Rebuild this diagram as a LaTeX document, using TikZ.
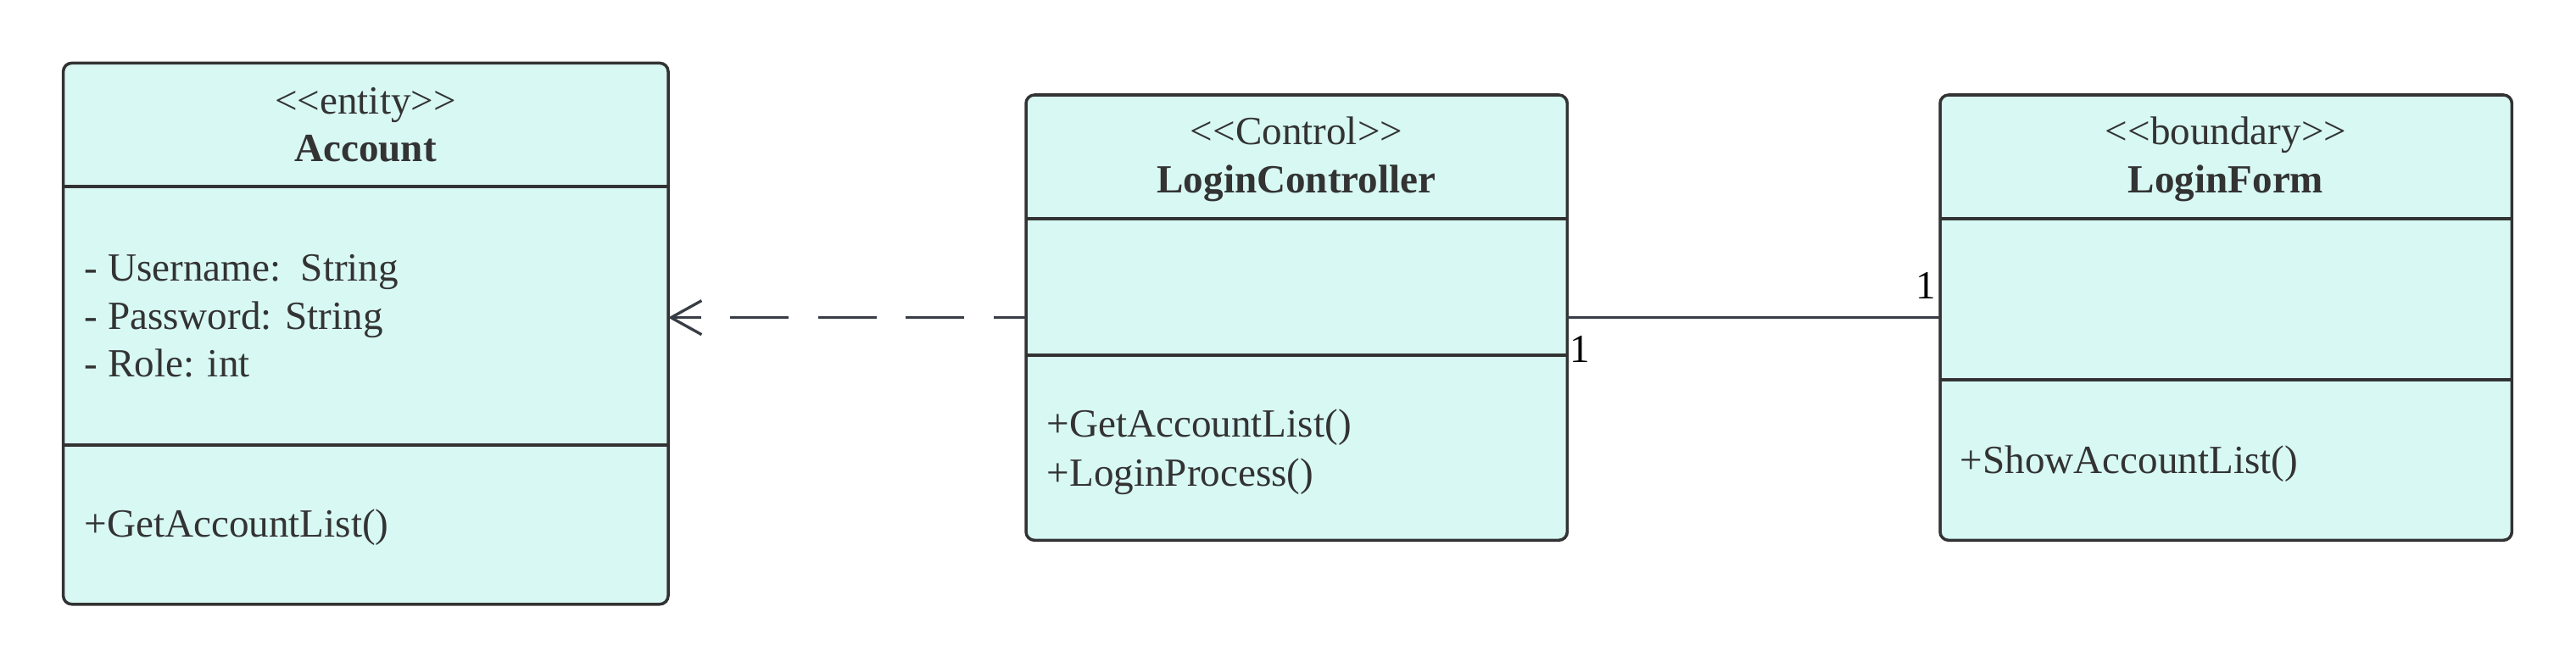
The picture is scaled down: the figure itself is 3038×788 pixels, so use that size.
\documentclass[tikz,border=0pt]{standalone}
\usepackage{fontspec}
\setmainfont{Liberation Serif}
\usetikzlibrary{arrows.meta}
\definecolor{boxfill}{HTML}{D7F8F3}
\definecolor{boxline}{HTML}{333333}
\definecolor{conn}{HTML}{383D45}
\definecolor{txt}{HTML}{333333}
\begin{document}
\begin{tikzpicture}[x=0.01cm,y=-0.01cm,
  classbox/.style={draw=boxline, fill=boxfill, line width=1pt, rounded corners=0.1cm, inner sep=0pt, outer sep=0pt, anchor=north west},
  divider/.style={draw=boxline, line width=1pt},
  lbl/.style={text=txt, inner sep=0pt, font=\fontsize{13.4}{16}\selectfont},
  hdr/.style={lbl, anchor=base},
  item/.style={lbl, anchor=base west},
  dep/.style={draw=conn, line width=0.033cm, dash pattern=on 0.69cm off 0.345cm, dash phase=0.31cm, -{Straight Barb[length=0.36cm,width=0.40cm]}},
  assoc/.style={draw=conn, line width=0.033cm},
  mult/.style={text=black, inner sep=0pt, font=\fontsize{13.4}{16}\selectfont}]
\useasboundingbox (0,0) rectangle (3038,788);

% boxes
\node[classbox, minimum width=7.13cm, minimum height=6.38cm] (acc) at (74.6,74.4) {};
\node[classbox, minimum width=6.38cm, minimum height=5.25cm] (lc) at (1210,112) {};
\node[classbox, minimum width=6.74cm, minimum height=5.25cm] (lf) at (2288,112) {};

% divider heights
\coordinate (a1) at (0,220);
\coordinate (a2) at (0,525);
\coordinate (c1) at (0,258);
\coordinate (c2) at (0,419);
\coordinate (f1) at (0,258);
\coordinate (f2) at (0,448);
\draw[divider] (acc.west |- a1) -- (acc.east |- a1);
\draw[divider] (acc.west |- a2) -- (acc.east |- a2);
\draw[divider] (lc.west |- c1) -- (lc.east |- c1);
\draw[divider] (lc.west |- c2) -- (lc.east |- c2);
\draw[divider] (lf.west |- f1) -- (lf.east |- f1);
\draw[divider] (lf.west |- f2) -- (lf.east |- f2);

% Account texts
\node[hdr] (accst) at (431,134.7) {<{}<entity>{}>};
\node[hdr] (accnm) at (431,191) {\bfseries Account};
\node[item] (acca1) at (99,332) {- Username:\ \ String};
\node[item] (acca2) at (99,388.5) {- Password: String};
\node[item] (acca3) at (99,445) {- Role: int};
\node[item] (accm1) at (99,633) {+GetAccountList()};

% LoginController texts
\node[hdr] (lcst) at (1529,171) {<{}<Control>{}>};
\node[hdr] (lcnm) at (1529,228) {\bfseries LoginController};
\node[item] (lcm1) at (1234,515.5) {+GetAccountList()};
\node[item] (lcm2) at (1234,573) {+LoginProcess()};

% LoginForm texts
\node[hdr] (lfst) at (2625,171) {<{}<boundary>{}>};
\node[hdr] (lfnm) at (2625,228) {\bfseries LoginForm};
\node[item] (lfm1) at (2311,558) {+ShowAccountList()};

% connectors
\draw[dep] (lc.west) -- (acc.east |- lc.west);
\draw[assoc] (lc.east) -- (lf.west);
\node[mult, anchor=base west] (m1) at (1851,427) {1};
\node[mult, anchor=base east] (m2) at (2284,353) {1};
\end{tikzpicture}
\end{document}
